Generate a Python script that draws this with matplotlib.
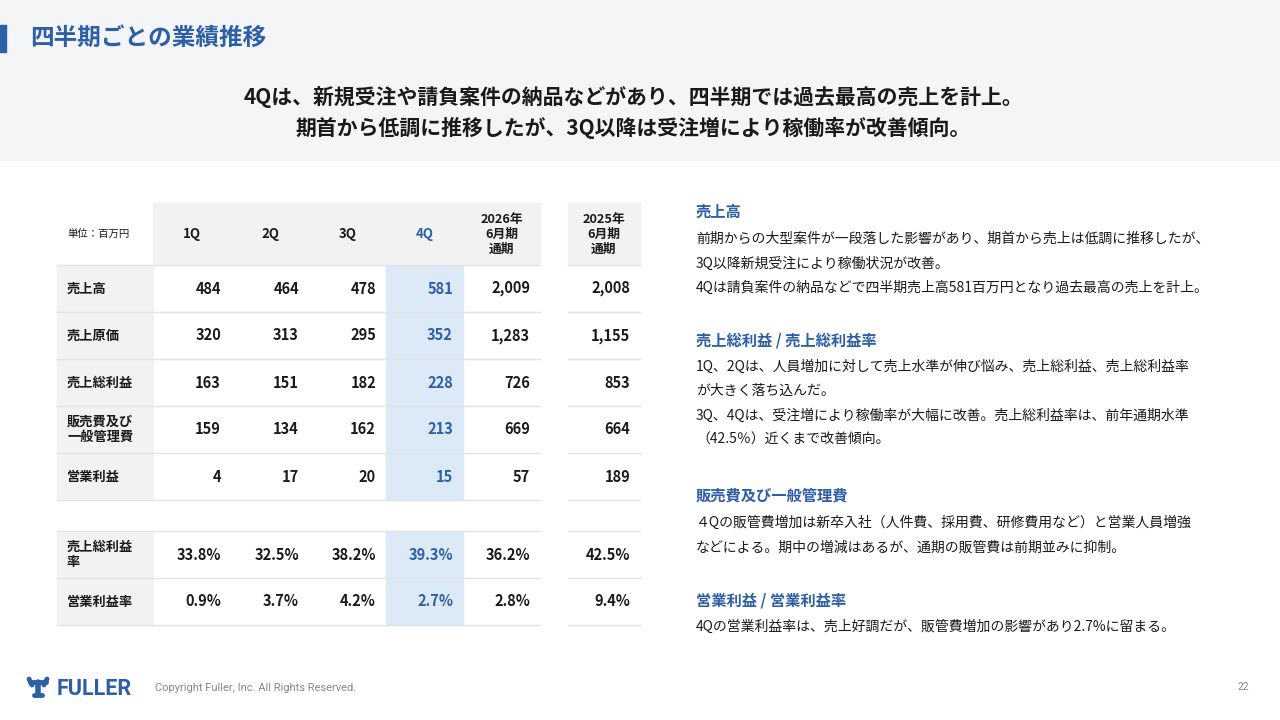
import matplotlib
matplotlib.use("Agg")
import matplotlib.pyplot as plt
from matplotlib.patches import Rectangle

plt.rcParams['font.family'] = ['Noto Sans CJK JP', 'DejaVu Sans']

# ---------------- data ----------------
title = "四半期ごとの業績推移"
subtitle_lines = ["4Qは、新規受注や請負案件の納品などがあり、四半期では過去最高の売上を計上。",
                  "期首から低調に推移したが、3Q以降は受注増により稼働率が改善傾向。"]
unit_label = "単位：百万円"
columns = ["1Q", "2Q", "3Q", "4Q", "2026年\n6月期\n通期"]
prev_column = "2025年\n6月期\n通期"
highlight_col = "4Q"

amount_labels = ["売上高", "売上原価", "売上総利益", "販売費及び\n一般管理費", "営業利益"]
net_sales = [484, 464, 478, 581, 2009, 2008]
cost_of_sales = [320, 313, 295, 352, 1283, 1155]
gross_profit = [163, 151, 182, 228, 726, 853]
sga = [159, 134, 162, 213, 669, 664]
operating_income = [4, 17, 20, 15, 57, 189]

ratio_labels = ["売上総利益\n率", "営業利益率"]
gross_margin = [33.8, 32.5, 38.2, 39.3, 36.2, 42.5]
operating_margin = [0.9, 3.7, 4.2, 2.7, 2.8, 9.4]

sections = [
    ("売上高", ["前期からの大型案件が一段落した影響があり、期首から売上は低調に推移したが、",
               "3Q以降新規受注により稼働状況が改善。",
               "4Qは請負案件の納品などで四半期売上高581百万円となり過去最高の売上を計上。"]),
    ("売上総利益 / 売上総利益率", ["1Q、2Qは、人員増加に対して売上水準が伸び悩み、売上総利益、売上総利益率",
                              "が大きく落ち込んだ。",
                              "3Q、4Qは、受注増により稼働率が大幅に改善。売上総利益率は、前年通期水準",
                              "（42.5％）近くまで改善傾向。"]),
    ("販売費及び一般管理費", ["４Qの販管費増加は新卒入社（人件費、採用費、研修費用など）と営業人員増強",
                           "などによる。期中の増減はあるが、通期の販管費は前期並みに抑制。"]),
    ("営業利益 / 営業利益率", ["4Qの営業利益率は、売上好調だが、販管費増加の影響があり2.7%に留まる。"]),
]
copyright_text = "Copyright Fuller, Inc. All Rights Reserved."
page_number = "22"

# ---------------- style ----------------
BLUE = "#2d5ea8"
HEAD_BG = "#f2f2f2"
BAND_BG = "#f4f5f7"
HL_BG = "#dce9f6"
LINE = "#e3e3e3"
TXT = "#1a1a1a"

fig = plt.figure(figsize=(12.8, 7.2), dpi=100)
ax = fig.add_axes([0, 0, 1, 1])
ax.set_xlim(0, 1280)
ax.set_ylim(720, 0)
ax.axis('off')

# header band
ax.add_patch(Rectangle((0, 0), 1280, 160, color=BAND_BG, zorder=0))
ax.add_patch(Rectangle((0, 25), 6, 27, color=BLUE, zorder=1))
ax.text(30, 38, title, fontsize=17, fontweight='bold', color=BLUE, va='center', ha='left')
for i, line in enumerate(subtitle_lines):
    ax.text(633, 97 + 31 * i, line, fontsize=15, fontweight='bold', color=TXT, va='center', ha='center')

# ---------------- table ----------------
col_edges = [153, 231, 309, 386, 463, 540]
prev_edges = [568, 640]
label_x0 = 57
head_top, head_bot = 203, 265
row_h = 47
amount_tops = [head_bot + row_h * i for i in range(len(amount_labels))]
ratio_start = 531
ratio_tops = [ratio_start + row_h * i for i in range(len(ratio_labels))]

amount_rows = [net_sales, cost_of_sales, gross_profit, sga, operating_income]
ratio_rows = [gross_margin, operating_margin]

# header backgrounds
ax.add_patch(Rectangle((col_edges[0], head_top), col_edges[-1] - col_edges[0], head_bot - head_top,
                       color=HEAD_BG, zorder=1))
ax.add_patch(Rectangle((prev_edges[0], head_top), prev_edges[1] - prev_edges[0], head_bot - head_top,
                       color=HEAD_BG, zorder=1))
ax.text(67, (head_top + head_bot) / 2, unit_label, fontsize=7.5, color=TXT, va='center', ha='left')

hl = columns.index(highlight_col)
for j, c in enumerate(columns):
    cx = (col_edges[j] + col_edges[j + 1]) / 2
    ax.text(cx, (head_top + head_bot) / 2, c, fontsize=9.2 if '\n' in c else 9.5, fontweight='bold',
            color=BLUE if j == hl else TXT, va='center', ha='center', linespacing=1.2, zorder=3)
ax.text((prev_edges[0] + prev_edges[1]) / 2, (head_top + head_bot) / 2, prev_column, fontsize=9.2,
        fontweight='bold', color=TXT, va='center', ha='center', linespacing=1.2, zorder=3)


def draw_rows(labels, rows, tops, fmt):
    for i, (lab, vals) in enumerate(zip(labels, rows)):
        top = tops[i]
        cy = top + row_h / 2
        ax.add_patch(Rectangle((label_x0, top), col_edges[0] - label_x0, row_h, color=HEAD_BG, zorder=1))
        ax.add_patch(Rectangle((col_edges[hl], top), col_edges[hl + 1] - col_edges[hl], row_h,
                               color=HL_BG, zorder=1))
        ax.text(67, cy, lab, fontsize=9.5, fontweight='bold', color=TXT, va='center', ha='left',
                linespacing=1.15, zorder=3)
        for j in range(len(columns)):
            ax.text(col_edges[j + 1] - 10, cy, fmt(vals[j]), fontsize=10.5, fontweight='bold',
                    color=BLUE if j == hl else TXT, va='center', ha='right', zorder=3)
        ax.text(prev_edges[1] - 10, cy, fmt(vals[-1]), fontsize=10.5, fontweight='bold',
                color=TXT, va='center', ha='right', zorder=3)
        yb = top + row_h
        ax.plot([label_x0, col_edges[-1]], [yb, yb], color=LINE, lw=1, zorder=2)
        ax.plot(prev_edges, [yb, yb], color=LINE, lw=1, zorder=2)
    # top line
    ax.plot([label_x0, col_edges[-1]], [tops[0], tops[0]], color=LINE, lw=1, zorder=2)
    ax.plot(prev_edges, [tops[0], tops[0]], color=LINE, lw=1, zorder=2)


draw_rows(amount_labels, amount_rows, amount_tops, lambda v: f"{v:,}")
draw_rows(ratio_labels, ratio_rows, ratio_tops, lambda v: f"{v:.1f}%")

# ---------------- commentary ----------------
head_ys = [212, 340, 496, 600]
line_gap = 24.3
for (head, lines), hy in zip(sections, head_ys):
    ax.text(696, hy, head, fontsize=11, fontweight='bold', color=BLUE, va='center', ha='left')
    for k, ln in enumerate(lines):
        ax.text(696, hy + 27 + line_gap * k, ln, fontsize=10, color=TXT, va='center', ha='left')

# ---------------- footer ----------------
# logo icon
lx, ly = 38, 688
ax.plot([lx - 8, lx + 8], [ly - 6, ly - 6], color=BLUE, lw=3.5, solid_capstyle='round')
ax.plot([lx, lx], [ly - 6, ly + 6], color=BLUE, lw=4, solid_capstyle='round')
ax.plot([lx - 9, lx - 6], [ly - 9, ly - 3], color=BLUE, lw=3.5, solid_capstyle='round')
ax.plot([lx + 9, lx + 6], [ly - 9, ly - 3], color=BLUE, lw=3.5, solid_capstyle='round')
ax.plot([lx - 4, lx + 4], [ly + 7, ly + 7], color=BLUE, lw=3.5, solid_capstyle='round')
ax.text(57, 689, "FULLER", family=['Roboto', 'DejaVu Sans'], fontsize=15.5, fontweight='bold',
        color=BLUE, va='center', ha='left')
ax.text(155, 688, copyright_text, family=['Roboto', 'DejaVu Sans'], fontsize=8, color="#888888",
        va='center', ha='left')
ax.text(1249, 687, page_number, family=['Roboto', 'DejaVu Sans'], fontsize=7.5, color="#888888",
        va='center', ha='right')

fig.savefig("out.png", dpi=100)
